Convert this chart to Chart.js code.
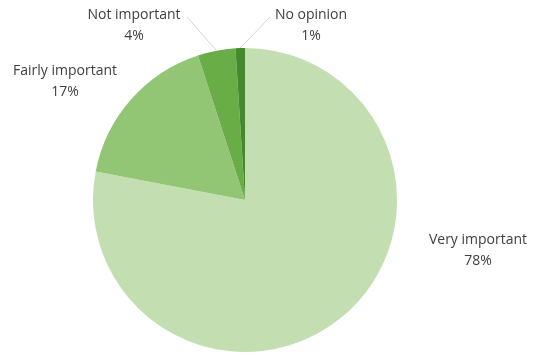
<!DOCTYPE html>
<html>
<head>
<meta charset="utf-8">
<script src="https://cdn.jsdelivr.net/npm/chart.js@4/dist/chart.umd.min.js"></script>
<style>
	html, body { margin: 0; padding: 0; background: #ffffff; }
	#wrap { width: 533px; height: 358px; }
</style>
</head>
<body>
<div id="wrap"><canvas id="importancePie" width="533" height="358"></canvas></div>
<script>
const categories = ["Very important", "Fairly important", "Not important", "No opinion"];
const shares = [78, 17, 4, 1];
const sliceColours = ["#c3dfb2", "#92c674", "#68ad45", "#44892b"];

// where each label block sits (centre of the first line) and whether a leader line is drawn
const labelSpots = [
	{x: 478, y: 240, leader: false},
	{x: 65, y: 71, leader: false},
	{x: 134, y: 15, leader: true, from: [187, 17]},
	{x: 311, y: 15, leader: true, from: [270, 17]}
];

// draws "name / value%" outside the pie, with thin leader lines for the small slices
const outsideLabels = {
	id: 'outsideLabels',
	afterDraw(chart, args, opts) {
		const ctx = chart.ctx;
		const arcs = chart.getDatasetMeta(0).data;
		ctx.save();
		arcs.forEach((arc, i) => {
			const spot = opts.spots[i];
			if (spot.leader) {
				const p = arc.getProps(['x', 'y', 'startAngle', 'endAngle', 'outerRadius'], true);
				const mid = (p.startAngle + p.endAngle) / 2;
				ctx.strokeStyle = "#d6d6d6";
				ctx.lineWidth = 1;
				ctx.beginPath();
				ctx.moveTo(spot.from[0], spot.from[1]);
				ctx.lineTo(p.x + Math.cos(mid) * p.outerRadius, p.y + Math.sin(mid) * p.outerRadius);
				ctx.stroke();
			}
			ctx.fillStyle = "#404040";
			ctx.font = "14px 'Open Sans', 'Noto Sans', sans-serif";
			ctx.textAlign = "center";
			ctx.textBaseline = "middle";
			ctx.fillText(chart.data.labels[i], spot.x, spot.y);
			ctx.fillText(chart.data.datasets[0].data[i] + "%", spot.x, spot.y + 21);
		});
		ctx.restore();
	}
};

new Chart(document.getElementById('importancePie'), {
	type: 'pie',
	data: {
		labels: categories,
		datasets: [{
			data: shares,
			backgroundColor: sliceColours,
			borderWidth: 0
		}]
	},
	options: {
		responsive: false,
		animation: false,
		layout: {padding: {left: 93, right: 136, top: 48, bottom: 6}},
		plugins: {
			legend: {display: false},
			tooltip: {enabled: false},
			outsideLabels: {spots: labelSpots}
		}
	},
	plugins: [outsideLabels]
});
</script>
</body>
</html>
